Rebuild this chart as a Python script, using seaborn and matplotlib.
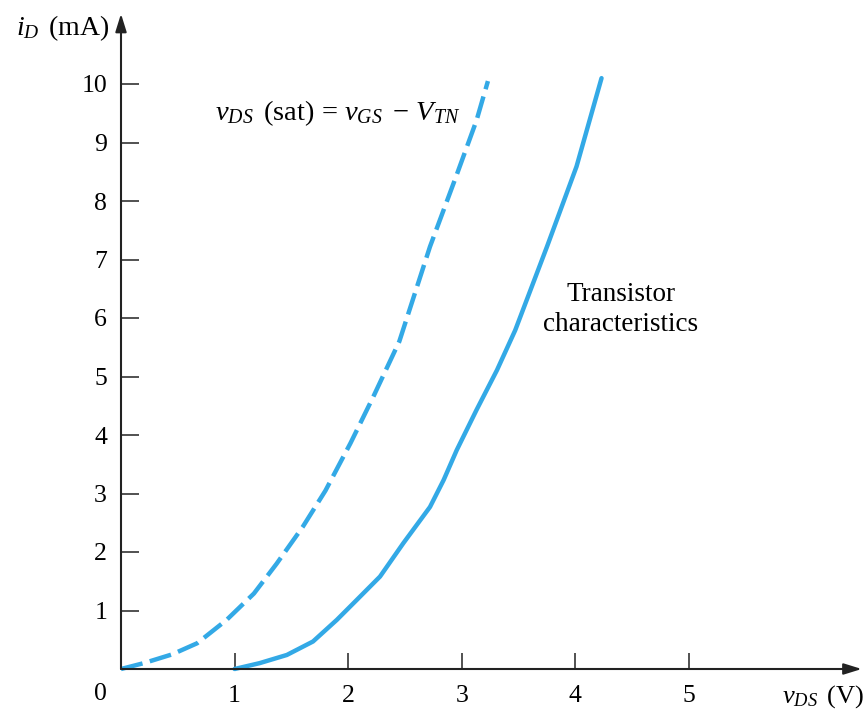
import matplotlib
matplotlib.use("Agg")
import matplotlib.pyplot as plt
import seaborn as sns
import pandas as pd

# Saturation boundary: v_DS(sat) = v_GS - V_TN (V) vs i_D (mA)
sat_vds = [0.0, 0.2, 0.45, 0.67, 0.93, 1.17, 1.37, 1.6, 1.8, 2.02, 2.22, 2.45, 2.72, 2.95, 3.13, 3.23]
sat_id = [0.0, 0.1, 0.25, 0.44, 0.84, 1.29, 1.8, 2.43, 3.05, 3.86, 4.65, 5.6, 7.22, 8.42, 9.38, 10.05]

# Transistor characteristic curve
tr_vds = [1.0, 1.22, 1.46, 1.69, 1.9, 2.075, 2.28, 2.485, 2.72, 2.84, 2.955, 3.13, 3.31, 3.47, 3.75, 4.01, 4.23]
tr_id = [0.0, 0.1, 0.24, 0.47, 0.84, 1.18, 1.58, 2.15, 2.77, 3.23, 3.74, 4.43, 5.11, 5.79, 7.22, 8.59, 10.1]

x_ticks = [1, 2, 3, 4, 5]
y_ticks = [1, 2, 3, 4, 5, 6, 7, 8, 9, 10]

sns.set_theme(style="white")
plt.rcParams["font.family"] = ["Liberation Serif", "DejaVu Serif"]
plt.rcParams["mathtext.fontset"] = "custom"
plt.rcParams["mathtext.rm"] = "Liberation Serif"
plt.rcParams["mathtext.it"] = "Liberation Serif:italic"

curve_color = "#33a9e6"
axis_color = "#222222"

fig = plt.figure(figsize=(8.64, 7.13), dpi=100)
ax = fig.add_axes([0, 0, 1, 1])

# pixel mapping: x origin 121 px, 113.6 px/V ; y origin 669 px, 58.5 px/mA
ax.set_xlim(-121 / 113.6, (864 - 121) / 113.6)
ax.set_ylim((669 - 713) / 58.5, 669 / 58.5)

sat_df = pd.DataFrame({"vds": sat_vds, "id": sat_id})
tr_df = pd.DataFrame({"vds": tr_vds, "id": tr_id})

sns.lineplot(data=sat_df, x="vds", y="id", ax=ax, color=curve_color, lw=3.2,
             linestyle=(0, (5.0, 1.7)), estimator=None, sort=False, clip_on=False)
sns.lineplot(data=tr_df, x="vds", y="id", ax=ax, color=curve_color, lw=3.2,
             estimator=None, sort=False, clip_on=False)

# axes through the origin, with arrowheads
for s in ax.spines.values():
    s.set_visible(False)
ax.spines["left"].set_position(("data", 0))
ax.spines["bottom"].set_position(("data", 0))

arrow = dict(arrowstyle="-|>,head_length=0.9,head_width=0.28", lw=1.5,
             color=axis_color, shrinkA=0, shrinkB=0)
ax.annotate("", xy=(6.52, 0), xytext=(0, 0), arrowprops=arrow, annotation_clip=False)
ax.annotate("", xy=(0, 11.2), xytext=(0, 0), arrowprops=arrow, annotation_clip=False)

ax.set_xticks(x_ticks)
ax.set_yticks(y_ticks)
ax.set_xticklabels([str(t) for t in x_ticks])
ax.set_yticklabels([str(t) for t in y_ticks])
ax.tick_params(axis="x", direction="in", length=11.5, width=1.1, color=axis_color,
               labelsize=18.5, pad=11.5, bottom=True, labelcolor="black")
ax.tick_params(axis="y", direction="in", length=13, width=1.1, color=axis_color,
               labelsize=18.5, pad=10, left=True, labelcolor="black")
ax.set_xlabel("")
ax.set_ylabel("")
ax.grid(False)

ax.text(-0.18, -0.43, "0", fontsize=18.5, ha="center", va="center", color="black")

ax.text(-0.92, 10.96, r"$i_D\,$ (mA)", fontsize=20, ha="left", va="center", color="black")
ax.text(5.82, -0.57, r"$v_{DS}\,$ (V)", fontsize=19, ha="left", va="baseline",
        color="black", clip_on=False)

ax.text(0.83, 9.5, r"$v_{DS}\,$ (sat) = $v_{GS}\,$ $-$ $V_{TN}$", fontsize=20.5, ha="left",
        va="center", color="black")
ax.text(4.4, 6.14, "Transistor\ncharacteristics", fontsize=19.5, ha="center",
        va="center", linespacing=1.25, color="black")

fig.savefig("out.png", dpi=100)
